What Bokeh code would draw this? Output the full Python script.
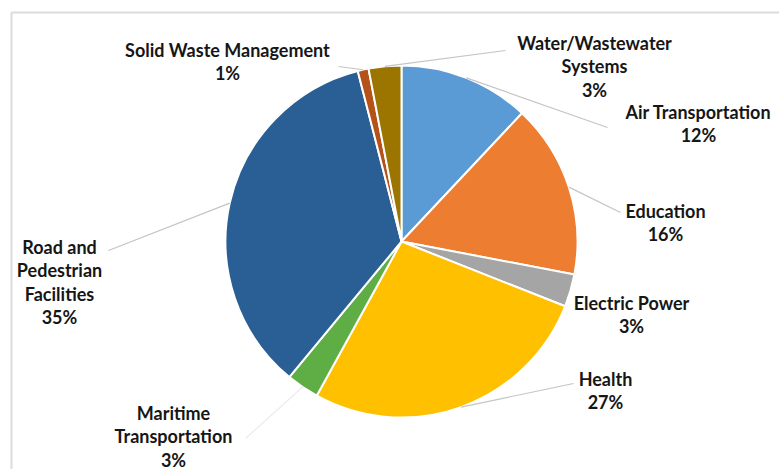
import math
from bokeh.plotting import figure
from bokeh.models import Range1d, ColumnDataSource
from bokeh.embed import file_html
from bokeh.resources import INLINE
from bokeh.core.properties import value

# ---- data ----
categories = ["Air Transportation", "Education", "Electric Power", "Health",
              "Maritime Transportation", "Road and Pedestrian Facilities",
              "Solid Waste Management", "Water/Wastewater Systems"]
shares = [12, 16, 3, 27, 3, 35, 1, 3]
label_lines = [["Air Transportation"], ["Education"], ["Electric Power"], ["Health"],
               ["Maritime", "Transportation"], ["Road and", "Pedestrian", "Facilities"],
               ["Solid Waste Management"], ["Water/Wastewater", "Systems"]]
colors = ["#5B9BD5", "#ED7D31", "#A5A5A5", "#FFC000", "#5EAE45", "#2A5F95", "#B5521A", "#9C7500"]

# ---- layout (image pixel coords, y down) ----
W, H = 779, 469
cx, cy, R = 401, 241, 176
label_pos = [(698, 111), (665, 210), (631, 302), (605, 378),
             (173, 412), (59, 246), (227, 49), (594, 42)]
leader_end = [(607, 127), (620, 212), None, (573, 383),
              (245, 438), (108, 250), (338, 66), (505, 50)]
line_gap = 23.5

def fy(y):
    return H - y

p = figure(width=W, height=H, output_backend="svg", toolbar_location=None,
           x_range=Range1d(0, W), y_range=Range1d(0, H), min_border=0)
p.axis.visible = False
p.grid.visible = False
p.outline_line_color = None
p.background_fill_color = "white"
p.border_fill_color = "white"

# frame lines (top and left)
p.segment(x0=[11, 11], y0=[fy(12), fy(12)], x1=[W, 11], y1=[fy(12), 0],
          line_color="#dcdcdc", line_width=2)

total = sum(shares)
starts, ends, mids = [], [], []
acc = 0.0
for s in shares:
    a0 = acc / total * 2 * math.pi
    acc += s
    a1 = acc / total * 2 * math.pi
    starts.append(math.pi / 2 - a0)
    ends.append(math.pi / 2 - a1)
    mids.append((a0 + a1) / 2)

src = ColumnDataSource(dict(start=starts, end=ends, color=colors))
p.wedge(x=cx, y=fy(cy), radius=R, start_angle="start", end_angle="end",
        direction="clock", fill_color="color", line_color="white", line_width=2, source=src)

# leader lines
lx0, ly0, lx1, ly1, lc = [], [], [], [], []
for i, (m, e) in enumerate(zip(mids, leader_end)):
    if e is None:
        continue
    lx0.append(cx + R * math.sin(m))
    ly0.append(fy(cy - R * math.cos(m)))
    lx1.append(e[0])
    ly1.append(fy(e[1]))
    lc.append("#ececec" if categories[i].startswith("Maritime") else "#c4c4c4")
p.segment(x0=lx0, y0=ly0, x1=lx1, y1=ly1, line_color=lc, line_width=1.2)

# labels
tx, ty, tt = [], [], []
for lines, s, (x, y) in zip(label_lines, shares, label_pos):
    all_lines = lines + [f"{s}%"]
    for i, t in enumerate(all_lines):
        tx.append(x)
        ty.append(fy(y + i * line_gap))
        tt.append(t)
p.text(x=tx, y=ty, text=tt, text_align="center", text_baseline="middle",
       text_font=value("Lato"), text_font_style="bold", text_font_size="18px",
       text_color="#161616")

open("out.html", "w").write(file_html(p, INLINE))
